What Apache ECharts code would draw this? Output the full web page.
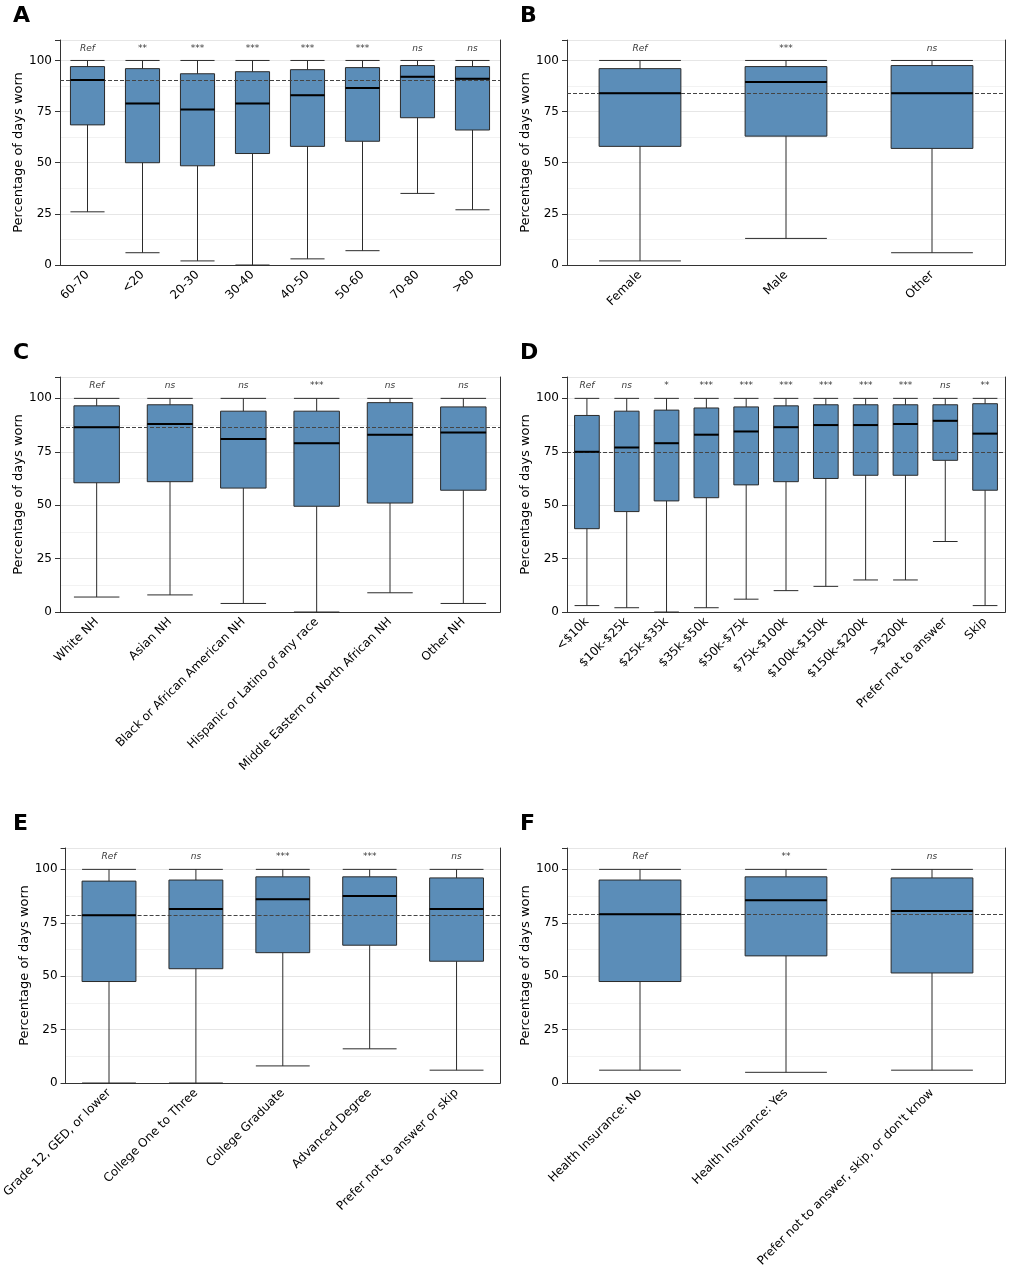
<!DOCTYPE html>
<html>
<head>
<meta charset="utf-8">
<script src="https://cdn.jsdelivr.net/npm/echarts@6/dist/echarts.min.js"></script>
<style>body{margin:0;background:#fff}#main{width:1011px;height:1280px}</style>
</head>
<body>
<div id="main"></div>
<script>
// box values: [whisker low, Q1, median, Q3, whisker high]
var catA = ['60-70', '<20', '20-30', '30-40', '40-50', '50-60', '70-80', '>80'];
var boxA = [[26, 68.5, 90.5, 97, 100], [6, 50, 79, 96, 100], [2, 48.5, 76, 93.5, 100], [0, 54.5, 79, 94.5, 100],
    [3, 58, 83, 95.5, 100], [7, 60.5, 86.5, 96.5, 100], [35, 72, 92, 97.5, 100], [27, 66, 91, 97, 100]];
var sigA = ['Ref', '**', '***', '***', '***', '***', 'ns', 'ns'];
var refA = 90.5;

var catB = ['Female', 'Male', 'Other'];
var boxB = [[2, 58, 84, 96, 100], [13, 63, 89.5, 97, 100], [6, 57, 84, 97.5, 100]];
var sigB = ['Ref', '***', 'ns'];
var refB = 84;

var catC = ['White NH', 'Asian NH', 'Black or African American NH', 'Hispanic or Latino of any race',
    'Middle Eastern or North African NH', 'Other NH'];
var boxC = [[7, 60.5, 86.5, 96.5, 100], [8, 61, 88, 97, 100], [4, 58, 81, 94, 100], [0, 49.5, 79, 94, 100],
    [9, 51, 83, 98, 100], [4, 57, 84, 96, 100]];
var sigC = ['Ref', 'ns', 'ns', '***', 'ns', 'ns'];
var refC = 86.5;

var catD = ['<$10k', '$10k-$25k', '$25k-$35k', '$35k-$50k', '$50k-$75k', '$75k-$100k', '$100k-$150k',
    '$150k-$200k', '>$200k', 'Prefer not to answer', 'Skip'];
var boxD = [[3, 39, 75, 92, 100], [2, 47, 77, 94, 100], [0, 52, 79, 94.5, 100], [2, 53.5, 83, 95.5, 100],
    [6, 59.5, 84.5, 96, 100], [10, 61, 86.5, 96.5, 100], [12, 62.5, 87.5, 97, 100], [15, 64, 87.5, 97, 100],
    [15, 64, 88, 97, 100], [33, 71, 89.5, 97, 100], [3, 57, 83.5, 97.5, 100]];
var sigD = ['Ref', 'ns', '*', '***', '***', '***', '***', '***', '***', 'ns', '**'];
var refD = 75;

var catE = ['Grade 12, GED, or lower', 'College One to Three', 'College Graduate', 'Advanced Degree',
    'Prefer not to answer or skip'];
var boxE = [[0, 47.5, 78.5, 94.5, 100], [0, 53.5, 81.5, 95, 100], [8, 61, 86, 96.5, 100],
    [16, 64.5, 87.5, 96.5, 100], [6, 57, 81.5, 96, 100]];
var sigE = ['Ref', 'ns', '***', '***', 'ns'];
var refE = 78.5;

var catF = ['Health Insurance: No', 'Health Insurance: Yes', "Prefer not to answer, skip, or don't know"];
var boxF = [[6, 47.5, 79, 95, 100], [5, 59.5, 85.5, 96.5, 100], [6, 51.5, 80.5, 96, 100]];
var sigF = ['Ref', '**', 'ns'];
var refF = 79;

var panels = [
    {letter: 'A', cat: catA, box: boxA, sig: sigA, ref: refA, left: 60, top: 40, w: 440, h: 225, bw: '62%'},
    {letter: 'B', cat: catB, box: boxB, sig: sigB, ref: refB, left: 567, top: 40, w: 438, h: 225, bw: '56%'},
    {letter: 'C', cat: catC, box: boxC, sig: sigC, ref: refC, left: 60, top: 377, w: 440, h: 235, bw: '62%'},
    {letter: 'D', cat: catD, box: boxD, sig: sigD, ref: refD, left: 567, top: 377, w: 438, h: 235, bw: '62%'},
    {letter: 'E', cat: catE, box: boxE, sig: sigE, ref: refE, left: 60, top: 848, w: 440, h: 235, bw: '62%'},
    {letter: 'F', cat: catF, box: boxF, sig: sigF, ref: refF, left: 567, top: 848, w: 438, h: 235, bw: '56%'}
];

var font = 'DejaVu Sans';
var option = {
    animation: false,
    textStyle: {fontFamily: font},
    title: [], grid: [], xAxis: [], yAxis: [], series: []
};

function medianItem(params, api) {
    var c = api.coord([api.value(0), api.value(1)]);
    var half = api.size([1, 0])[0] * params.context.bw / 2;
    return {
        type: 'line',
        shape: {x1: c[0] - half, y1: c[1], x2: c[0] + half, y2: c[1]},
        style: {stroke: '#000', lineWidth: 2}
    };
}

panels.forEach(function (p, i) {
    option.title.push({text: p.letter, left: p.left - 52, top: p.top - 40,
        textStyle: {fontSize: 22, fontWeight: 'bold', color: '#000', fontFamily: font}});
    option.grid.push({left: p.left, top: p.top, width: p.w, height: p.h});
    option.xAxis.push({
        type: 'category', gridIndex: i, data: p.cat,
        axisLine: {lineStyle: {color: '#333'}}, axisTick: {alignWithLabel: true, lineStyle: {color: '#333'}},
        axisLabel: {interval: 0, rotate: 45, fontSize: 12, color: '#000', margin: 8}
    });
    option.yAxis.push({
        type: 'value', gridIndex: i, min: 0, max: 110, interval: 25,
        name: 'Percentage of days worn', nameLocation: 'middle', nameGap: 34,
        nameTextStyle: {fontSize: 13, color: '#000'},
        axisLine: {show: true, lineStyle: {color: '#333'}}, axisTick: {show: true},
        axisLabel: {fontSize: 12, color: '#000', formatter: function (v) { return v > 100 ? '' : v; }},
        splitLine: {lineStyle: {color: '#e6e6e6'}},
        minorTick: {show: false, splitNumber: 2},
        minorSplitLine: {show: true, lineStyle: {color: '#f2f2f2'}}
    });
    // frame
    option.xAxis.push({type: 'category', gridIndex: i, position: 'top', data: p.cat,
        axisLine: {lineStyle: {color: '#333'}}, axisTick: {show: false}, axisLabel: {show: false}});
    option.yAxis.push({type: 'value', gridIndex: i, position: 'right', min: 0, max: 110,
        axisLine: {show: true, lineStyle: {color: '#333'}}, axisTick: {show: false},
        axisLabel: {show: false}, splitLine: {show: false}});
    var xi = i * 2, yi = i * 2;
    var bwNum = parseFloat(p.bw) / 100;
    option.series.push({
        type: 'boxplot', xAxisIndex: xi, yAxisIndex: yi, data: p.box,
        boxWidth: [p.bw, p.bw],
        itemStyle: {color: '#5b8db8', borderColor: '#2b2b2b', borderWidth: 1},
        markLine: {silent: true, symbol: 'none', label: {show: false},
            lineStyle: {type: 'dashed', color: '#444', width: 1}, data: [{yAxis: p.ref}]}
    });
    // whiskers overdrawn in gray are part of boxplot; medians:
    option.series.push({
        type: 'custom', xAxisIndex: xi, yAxisIndex: yi, z: 5,
        renderItem: function (params, api) { params.context.bw = bwNum; return medianItem(params, api); },
        data: p.box.map(function (b, k) { return [k, b[2]]; })
    });
    option.series.push({
        type: 'scatter', xAxisIndex: xi, yAxisIndex: yi, symbolSize: 0,
        data: p.sig.map(function (s, k) { return [k, 106]; }),
        label: {show: true, position: 'inside', fontSize: 9, fontStyle: 'italic', color: '#000',
            formatter: function (d) { return p.sig[d.dataIndex]; }}
    });
});

echarts.init(document.getElementById('main')).setOption(option);
</script>
</body>
</html>
